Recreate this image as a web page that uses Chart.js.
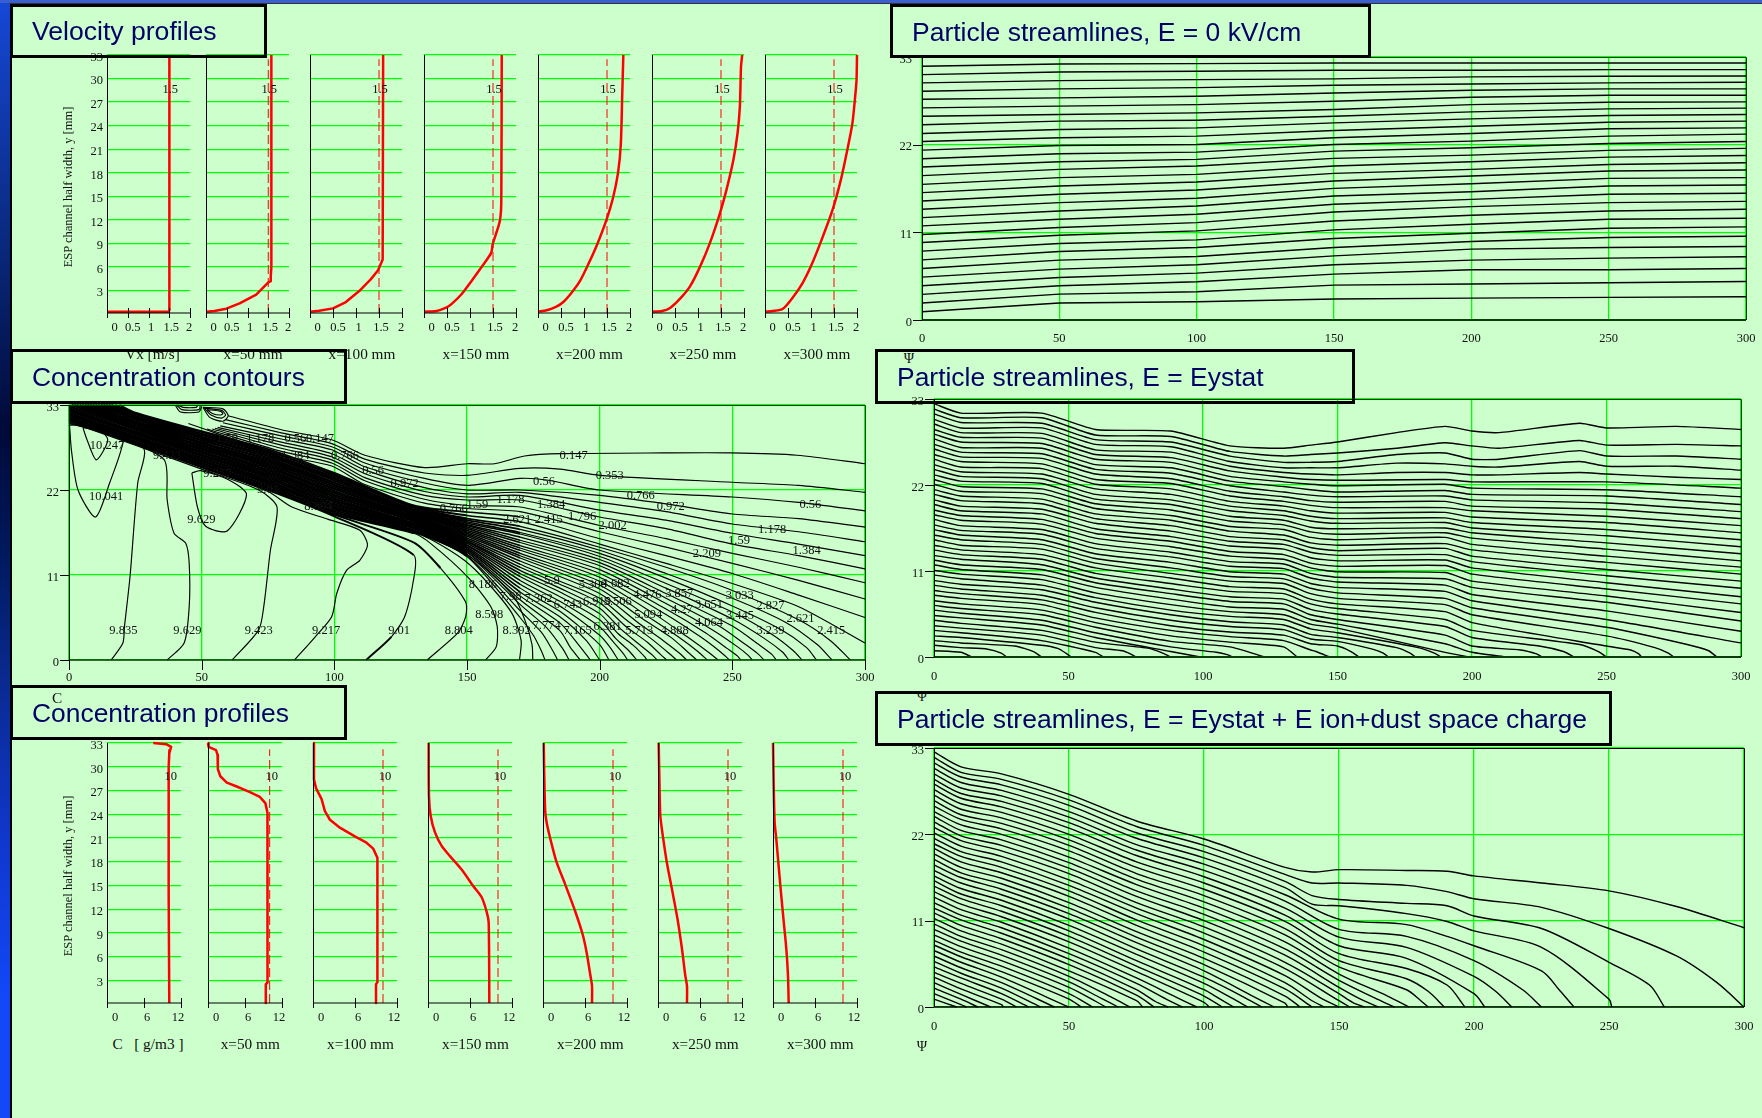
<!DOCTYPE html>
<html>
<head>
<meta charset="utf-8">
<title>ESP profiles and streamlines</title>
<script src="https://cdn.jsdelivr.net/npm/chart.js@4"></script>
<style>
html, body { margin: 0; padding: 0; background: #ccffcc; }
body { position: relative; width: 1762px; height: 1118px; overflow: hidden; font-family: "Liberation Serif", serif; color: #111; }
canvas { position: absolute; }
.cap { position: absolute; white-space: pre; transform: translate(-50%, -50%); font-size: 15.3px; z-index: 3; }
.box { position: absolute; box-sizing: border-box; border: 3px solid #000; z-index: 5; }
.ttl { position: absolute; white-space: pre; font-family: "Liberation Sans", Arial, sans-serif; font-size: 26px; color: #000066; transform-origin: left center; z-index: 6; line-height: 30px; }
#strip { position: absolute; left: 0; top: 0; width: 9.5px; height: 1118px; background: linear-gradient(#1648d8 0, #0a2a80 235px, #000a38 430px, #001a60 560px, #0a2a90 680px, #1038d0 850px, #1248f8 1000px); z-index: 7; }
#stripLine { position: absolute; left: 9.5px; top: 0; width: 2.5px; height: 1118px; background: #000; z-index: 7; }
#topBand { position: absolute; left: 0; top: 0; width: 1762px; height: 3px; background: #3a5fd0; z-index: 8; }
#topLine { position: absolute; left: 9px; top: 3px; width: 1753px; height: 1px; background: #333; z-index: 8; }
</style>
</head>
<body>
<div id="strip"></div><div id="stripLine"></div><div id="topBand"></div><div id="topLine"></div>
<script>
// velocity profiles: [Vx, y]
const velCurves = [
    [[0,.3],[1.48,.3],[1.51,.6],[1.5,2],[1.5,14],[1.51,33]],
    [[0,.3],[.2,.4],[.49,.7],[.81,1.38],[1.21,2.5],[1.49,4],[1.55,4.2],[1.56,4.8],[1.575,6],[1.575,33]],
    [[0,.3],[.2,.45],[.5,.74],[.78,1.55],[1.07,2.95],[1.32,4.43],[1.48,5.6],[1.58,6.97],[1.59,33]],
    [[0,.32],[.27,.4],[.48,.83],[.59,1.25],[.81,2.5],[1.03,4.2],[1.24,5.9],[1.46,7.8],[1.495,8.95],[1.62,11.2],[1.66,12.26],[1.68,14.2],[1.69,33]],
    [[0,.32],[.19,.49],[.4,.95],[.55,1.55],[.73,2.73],[.91,4.2],[1.09,6.33],[1.27,8.66],[1.49,12.05],[1.63,14.8],[1.74,18],[1.8,21.6],[1.83,27.7],[1.855,33]],
    [[0,.32],[.22,.4],[.4,.83],[.61,1.97],[.83,3.58],[1.05,6.12],[1.26,9.08],[1.48,12.9],[1.62,15.86],[1.77,19.67],[1.86,23.05],[1.91,26.44],[1.935,31.5],[1.96,33]],
    [[0,.32],[.17,.4],[.39,.7],[.6,2.1],[.82,4],[1,6.12],[1.22,9.3],[1.47,13.3],[1.65,17.13],[1.79,20.94],[1.9,24.3],[1.96,27.7],[1.99,29.8],[2,33]]
];
const velRef = 1.5;
const velXTicks = [0, .5, 1, 1.5, 2];
const velYTicks = [3, 6, 9, 12, 15, 18, 21, 24, 27, 30, 33];
const velCaptions = ['Vx [m/s]', 'x=50 mm', 'x=100 mm', 'x=150 mm', 'x=200 mm', 'x=250 mm', 'x=300 mm'];

// concentration profiles: [C, y]
const concCurves = [
    [[7.5,33],[9.6,32.85],[10.4,32.5],[10.1,31.7],[10,30],[10,14],[10.1,.14]],
    [[0,33],[.1,32.5],[1.3,32.1],[1.55,31.5],[1.6,29.7],[2,28.8],[3.05,28],[4.66,27.5],[6.8,26.8],[8.4,26.2],[9.3,25.4],[9.64,24.2],[9.7,6.1],[9.6,2.75],[9.37,2.5],[9.37,.14]],
    [[.14,33],[.14,28.4],[.43,27.3],[1.23,25.9],[1.7,24.4],[2.42,23.3],[3.84,22.3],[5.98,21.2],[7.64,20.4],[8.6,19.65],[9.2,18.5],[9.25,6.1],[9.15,2.75],[9,2.5],[9,.14]],
    [[.1,33],[.14,26.3],[.38,23.8],[1,21.7],[1.95,20],[3.14,18.7],[4.8,17],[6.48,14.9],[7.67,13.5],[8.4,11.6],[8.67,10.3],[8.76,.14]],
    [[.1,33],[.2,28],[.33,24.2],[.62,22.5],[1.24,20.2],[1.95,17.9],[3.14,15.2],[4.57,11.8],[5.67,8.8],[6.24,6.5],[6.7,4],[7,2.3],[7,.14]],
    [[.1,33],[.2,28.4],[.33,23.8],[.7,21.2],[1.3,17.7],[2,14.5],[2.8,10.7],[3.43,6.95],[3.9,3.6],[4.14,2.3],[4.14,.14]],
    [[0,33],[.1,27.5],[.24,22.9],[.48,20.8],[.8,17.5],[1.14,14.1],[1.5,10.7],[1.9,7],[2.14,3.6],[2.24,.14]]
];
const concRef = 10;
const concXTicks = [0, 6, 12];
const concCaptions = ['C   [ g/m3 ]', 'x=50 mm', 'x=100 mm', 'x=150 mm', 'x=200 mm', 'x=250 mm', 'x=300 mm'];

// axes of the map panels
const mapXTicks = [0, 50, 100, 150, 200, 250, 300];
const mapYTicks = [0, 11, 22, 33];

// concentration contours, each line is x,y,x,y,...
const contourLines = [
    [60,31.6,80,29.8,99,28.5,111.5,26.5,134,24.9,150,25.4,160.4,25.4,171.7,26.4,185.5,26.7,224,26.8,249.4,26.8,274.4,26.5,300,25.4],
    [59,31.1,80,29.4,99,28,111.5,26,134,24.2,150,23.9,170,24.8,185,24.7,200,23.9,250,23,275,22.6,300,21.7],
    [58,30.7,80,29,99,27.6,111.5,25.5,134,23.5,150,22.6,170,23.5,180,23.3,200,22,250,21.1,275,20.4,300,19.3],
    [57,30.3,80,28.6,99,27.2,111.5,25,134,22.9,150,22,170,22,200,21.3,225,20.2,250,18.9,275,18.3,300,17.2],
    [56,30.1,80,28.2,99,26.7,111.5,24.6,134,22.3,150,21.5,170,21.7,200,20.4,225,19.2,250,17.6,275,16.6,300,15.3],
    [55,30,80,27.8,99,26.3,111.5,24.1,134,21.8,150,21.1,170,21.3,200,19.4,225,18.1,250,16.4,275,15,300,13.5],
    [54,29.9,80,27.4,99,25.9,111.5,23.6,134,21.3,150,20.7,170,20.7,200,18.5,225,17,250,15,275,13.5,300,11.8],
    [52,29.9,80,27,99,25.5,111.5,23.2,134,20.8,150,20,170,19.8,200,17.4,225,15.7,250,13.8,275,12,300,10],
    [45,30.6,80,26.5,99,25.1,111.5,22.7,134,20.3,150,19.6,170,19.2,200,16.6,225,14.6,250,12.5,275,10.3,300,7.9],
    [19,33,25,32,50,29.6,75,27.3,100,24.2,130,20,150,19.15,170,18.5,200,15.7,225,13.5,250,11.2,275,8.4,300,5.5],
    [17.5,33,25,31.9,50,29.5,75,27.1,100,24,130,19.9,150,18.7,170,17.9,200,15,225,12.5,250,9.9,275,6.9,300,2.2],
    [16,33,25,31.8,50,29.3,75,27,100,23.9,130,19.8,150,18.3,170,17.3,200,14.6,225,12,250,9,275,5.2,287,2.5,294.5,0],
    [15,33,25,31.6,50,29.2,75,26.8,100,23.7,130,19.7,150,18.1,170,16.9,200,14.2,225,11.2,250,8,270,4.9,282,2,287.6,0],
    [14,33,25,31.5,50,29.1,75,26.7,100,23.5,130,19.5,150,17.9,170,16.5,200,13.8,225,10.6,250,7,268,4,278,1.6,281.7,0],
    [13,33,25,31.4,50,28.9,75,26.5,100,23.4,130,19.4,150,17.7,170,16.3,200,13.4,225,9.9,250,6.2,265,3.3,273,1.2,276.3,0],
    [12,33,25,31.3,50,28.8,75,26.4,100,23.2,130,19.3,150,17.5,170,15.9,200,13,225,9.3,250,5.3,262,2.8,269,1,271.3,0],
    [11,33,25,31.2,50,28.7,75,26.2,100,23,130,19.2,150,17.4,170,15.5,200,12.6,225,8.6,250,4.4,260,2,265,.7,266.5,0],
    [10,33,25,31.1,50,28.5,75,26,100,22.9,130,19.1,150,17.2,170,15.2,200,12.2,225,8,245,4.4,255,2,260,.7,261.9,0],
    [9,33,25,30.9,50,28.4,75,25.9,100,22.7,130,19,150,17,170,14.8,200,11.7,225,7.3,243,3.8,252,1.7,256,.6,257.5,0],
    [8,33,25,30.8,50,28.2,75,25.7,100,22.6,130,18.9,150,16.8,170,14.5,200,11.2,225,6.6,240,3.5,248,1.5,252,.5,253.1,0],
    [7,33,25,30.7,50,28.1,75,25.6,100,22.4,130,18.8,150,16.6,170,14.2,200,10.7,225,5.9,238,3,245,1.2,249,0],
    [6,33,25,30.6,50,28,75,25.4,100,22.2,130,18.6,150,16.4,170,13.8,200,10.2,220,6.1,233,3,241,1,244.6,0],
    [5,33,25,30.5,50,27.8,75,25.3,100,22.1,130,18.5,150,16.2,170,13.5,200,9.7,220,5.2,230,2.9,237,1.1,240.6,0],
    [4,33,25,30.3,50,27.7,75,25.1,100,21.9,130,18.4,150,16,170,13.2,200,9.2,215,5.6,227,2.9,233,1.1,236.6,0],
    [3,33,25,30.2,50,27.6,75,25,100,21.7,130,18.3,150,15.8,170,12.8,200,8.6,215,4.7,224,2.5,230,.9,232.8,0],
    [2,33,25,30.1,50,27.4,75,24.8,100,21.6,130,18.2,150,15.6,170,12.4,185,10.2,200,8,210,5.2,220,2.6,226,.9,229,0],
    [1,33,25,30,50,27.3,75,24.6,100,21.4,130,18.1,150,15.4,170,12,185,9.8,200,7.4,210,4.3,218,2.3,223,.7,225.3,0],
    [0,32.9,25,29.9,50,27.2,75,24.5,100,21.2,130,18,150,15.3,170,11.6,185,9.3,200,6.7,208,4,215,2,220,.6,221.6,0],
    [0,32.8,25,29.8,50,27,75,24.3,100,21.1,130,17.9,150,15.1,170,11.2,185,8.8,200,6,207,3.4,213,1.8,217,.4,217.8,0],
    [0,32.6,25,29.6,50,26.9,75,24.2,100,20.9,130,17.7,150,14.9,170,10.8,185,8.2,200,5.2,206,2.8,211,1.2,214,0],
    [0,32.5,25,29.5,50,26.8,75,24,100,20.7,130,17.6,150,14.8,170,10.3,185,7.6,200,4.3,205,2.4,209,.8,210.5,0],
    [0,32.4,25,29.4,50,26.6,75,23.9,100,20.6,130,17.5,150,14.6,170,9.8,185,7,200,3.2,204,1.6,207,0],
    [0,32.3,25,29.3,50,26.5,75,23.7,100,20.4,130,17.4,150,14.4,170,9.3,185,6.3,200,2,203.5,0],
    [0,32.2,25,29.2,50,26.4,75,23.6,100,20.2,130,17.3,150,14.2,170,8.8,185,5.6,195,2.5,200,0],
    [0,32,25,29,50,26.2,75,23.4,100,20.1,130,17.2,150,14,170,8.3,185,4.8,192,2,196.5,0],
    [0,31.9,25,28.9,50,26.1,75,23.2,100,19.9,130,17.1,150,13.9,170,7.8,185,3.8,189,1.6,192.7,0],
    [0,31.8,25,28.8,50,25.9,75,23.1,100,19.7,130,17,150,13.7,170,7.2,180,4.2,186,1.5,188.5,0],
    [0,31.7,25,28.7,50,25.8,75,22.9,100,19.6,130,16.8,150,13.5,170,6.4,178,3.6,182,1.4,184.2,0],
    [0,31.6,25,28.6,50,25.7,75,22.8,100,19.4,130,16.7,150,13.4,170,5.5,175,3.2,178,1.2,179.4,0],
    [0,31.4,25,28.5,50,25.5,75,22.6,100,19.2,130,16.6,148,14,158,11.5,168,8,172,5,174.5,2,174.8,0],
    [0,31.3,25,28.3,50,25.4,75,22.5,100,19.1,130,16.5,137,15.5,149,12.9,158,9.9,167,6,170.4,2.5,169.8,0],
    [0,31.2,25,28.2,50,25.3,75,22.3,100,18.9,130,16.4,136.6,15,150.4,10.7,159,6.9,161.4,4.3,161,1.7,157,0],
    [0,31.1,25,28.1,50,25.1,75,22.2,100,18.8,130,15.2,140,11.9,149.5,7.5,149.5,5.6,146.5,3.5,135,0],
    [0,31,25,28,50,25,75,22,100,18.6,129.9,13.6,129.6,9.9,126.5,5.6,121.5,3,112,0],
    [0,30.9,25,27.9,50,24.9,75,21.8,84,19.8,97.7,18.2,109.6,16.8,112.5,14.9,109.6,12.9,104.6,11.6,100.9,8.6,99,5.6,92.8,3,85,0],
    [0,30.8,25,27.8,50,24.7,71.5,22,78.4,19.8,75.9,14.2,73.4,6.9,71.5,3.9,61.5,0],
    [0,30.7,20,28.6,35.9,25.9,37,20.7,39.6,16.4,44,15.1,45.3,12.5,45.3,6.9,43.4,2.2,37,0],
    [0,30.6,20,28.8,28.4,27.2,25.9,22.9,23,10.8,20.9,4.3,20.3,2.2,15.9,0],
    [0,30.4,.2,30.3,.9,27.2,3.4,22,10,18.5,15.3,22.9,20.6,28.7,16.5,29.8,11.5,30.4,0,30.4],
    [5.3,30,10.3,30.1,14.6,28.5,10.3,25.9,6.8,28.5,5.3,30],
    [46.3,24.2,49.6,24.5,60.3,23.3,66.9,21.4,59.6,16.7,51.5,17.3,48.4,19.8,46.3,24.2],
    [40,33,42,32.1,49,32.1,50,32.8],
    [40.5,33,42.5,32.4,49,32.4,49.5,33],
    [41,33,43,32.7,48,32.7,48.5,33],
    [50.5,32.7,53,31.4,58,30.9,60,31.6,58,32.5,50.5,32.7],
    [51,32.6,53.5,31.7,57.5,31.3,59,31.7,57.5,32.3,51,32.6],
    [52,32.4,54,31.9,57,31.7,58,31.9,57,32.2,52,32.4]
];
const contourLabels = ['10.247','10.041','9.629','9.835','9.629','9.423','9.217','9.01','8.804','8.598','8.392','7.774','7.165','6.381','5.713','4.888','4.064','3.445','3.239','2.621','2.415','2.827','3.033','3.651','3.857','4.27','5.094','4.476','6.743','7.362','7.98','8.186','6.919','5.506','4.682','5.300','5.9','2.209','1.59','1.178','1.384','0.56','0.972','0.766','0.56','0.353','0.147','1.178','1.384','1.796','2.002','2.415','2.621','1.59','0.766','1.59','1.178','0.56','0.147','1.384','0.766','0.56','0.972','9.423','9.217','9.01','8.804'];
const contourLabelX = [14.3,14,49.9,20.5,44.6,71.5,96.9,124.4,146.9,158.4,168.7,180,191.7,203,214.9,228.3,241.2,252.9,264.4,275.7,287.3,264.4,252.8,241.2,230,231,218.3,218,188,177,166.4,156,199,206.8,206,197.4,182,240.4,252.5,265,278,279.4,226.8,215.5,179,203.8,190.2,166.4,181.7,193.4,204.9,180.8,168.9,153.9,145,59.6,72.1,85.3,94.6,85.3,104,114.6,126.5,37,55.9,75,94];
const contourLabelY = [27.7,21.1,18.2,3.75,3.75,3.75,3.75,3.75,3.75,5.8,3.75,4.5,3.75,4.3,3.75,3.75,4.8,5.7,3.75,5.3,3.75,7,8.3,7.1,8.6,6.5,5.9,8.4,7.1,7.9,8.2,9.7,7.5,7.5,9.9,9.8,10.3,13.7,15.5,16.8,14.1,20.1,19.9,21.2,23.1,23.9,26.5,20.8,20.1,18.6,17.4,18.1,18.2,20.1,19.6,28.7,28.6,28.6,28.6,26.5,26.4,24.5,22.8,26.4,24.1,22,19.8];

// streamlines E = 0, one row per line, values at streamX0
const streamX0 = [0, 50, 100, 150, 200, 250, 300];
const streamRows0 = [
    [1.04,2.13,2.29,2.63,2.75,2.84,2.92],
    [2.13,3.25,3.55,4.38,4.51,4.67,4.84],
    [3.21,4.3,4.8,5.76,6.3,6.3,6.47],
    [4.3,5.34,5.88,6.93,7.51,7.76,7.93],
    [5.38,6.38,6.93,8.05,8.89,9.09,9.22],
    [6.47,7.51,7.97,9.09,9.85,10.35,10.51],
    [7.55,8.59,9.09,10.22,10.89,11.51,11.68],
    [8.64,9.6,10.05,11.31,12.02,12.64,12.77],
    [9.72,10.64,11.18,12.43,13.14,13.68,13.89],
    [10.72,11.6,12.22,13.56,14.23,14.73,14.89],
    [11.81,12.64,13.27,14.52,15.14,15.77,15.9],
    [12.85,13.68,14.31,15.56,16.1,16.81,16.94],
    [13.89,14.73,15.27,16.52,17.1,17.77,17.86],
    [14.94,15.77,16.31,17.44,18.06,18.69,18.82],
    [15.98,16.81,17.31,18.4,18.9,19.52,19.73],
    [17.02,17.86,18.27,19.32,19.86,20.44,20.65],
    [18.11,18.9,19.32,20.28,20.69,21.28,21.53],
    [19.19,19.86,20.15,21.19,21.61,22.15,22.4],
    [20.23,20.86,21.07,22.03,22.45,23.07,23.32],
    [21.32,21.9,22.03,22.86,23.4,23.99,24.11],
    [22.4,22.86,23.07,23.78,24.32,24.82,24.95],
    [23.4,23.9,24.11,24.74,25.24,25.66,25.78],
    [24.49,24.95,25.07,25.57,26.12,26.49,26.58],
    [25.57,25.78,25.99,26.41,27.03,27.33,27.37],
    [26.62,26.83,27.03,27.45,27.95,28.2,28.2],
    [27.7,27.87,28.08,28.49,28.83,29,29],
    [28.7,29,29.16,29.45,29.62,29.75,29.83],
    [29.75,30.04,30.16,30.25,30.5,30.58,30.62],
    [30.79,31.12,31.21,31.33,31.33,31.41,31.41],
    [31.83,32.12,32.17,32.25,32.25,32.25,32.25]
];

// streamlines E = Eystat, per x: heights of the lines still alive, top line first
const eyX = [0, 10, 40, 60, 88, 110, 130, 140, 150, 172, 190, 200, 210, 240, 250, 276, 300];
const eyColumns = [
    [32.4,31.7,31.1,30.4,29.8,29.1,28.5,27.9,27.2,26.6,25.9,25.3,24.6,24,23.3,22.7,22.1,21.4,20.8,20.1,19.5,18.8,18.2,17.6,16.9,16.3,15.6,15,14.3,13.7,13,12.4,11.8,11.1,10.5,9.8,9.2,8.5,7.9,7.2,6.6,6,5.3,4.7,4,3.4,2.7,2.1,1.5,.8],
    [31.2,30.6,30,29.3,28.7,28.1,27.5,26.8,26.2,25.6,25,24.3,23.7,23.1,22.5,21.8,21.2,20.6,20,19.3,18.7,18.1,17.5,16.8,16.2,15.6,15,14.3,13.7,13.1,12.5,11.8,11.2,10.6,10,9.3,8.7,8.1,7.5,6.8,6.2,5.6,5,4.3,3.7,3.1,2.5,1.8,1.2,.6],
    [31.2,30.6,29.9,29.3,28.6,28,27.3,26.7,26,25.4,24.7,24.1,23.4,22.8,22.2,21.5,20.9,20.2,19.6,18.9,18.3,17.6,17,16.3,15.7,15,14.4,13.8,13.1,12.5,11.8,11.2,10.5,9.9,9.2,8.6,7.9,7.3,6.7,6,5.4,4.7,4.1,3.4,2.8,2.1,1.5],
    [29.1,28.4,27.8,27.2,26.5,25.9,25.3,24.6,24,23.4,22.7,22.1,21.5,20.8,20.2,19.6,19,18.3,17.7,17.1,16.4,15.8,15.2,14.5,13.9,13.2,12.6,12,11.4,10.7,10.1,9.5,8.9,8.2,7.6,7,6.3,5.7,5,4.4,3.8,3.1,2.5,1.9,1.2,.6],
    [28.9,28.2,27.5,26.9,26.2,25.5,24.9,24.2,23.5,22.8,22.2,21.5,20.8,20.1,19.5,18.8,18.1,17.5,16.8,16.1,15.4,14.8,14.1,13.4,12.8,12.1,11.4,10.7,10.1,9.4,8.7,8.1,7.4,6.7,6,5.4,4.7,4,3.4,2.7,2,1.3,.7],
    [27,26.3,25.7,25,24.4,23.8,23.1,22.5,21.9,21.2,20.6,19.9,19.3,18.7,18,17.4,16.7,16.1,15.4,14.8,14.2,13.5,12.9,12.2,11.6,10.9,10.3,9.7,9,8.4,7.7,7.1,6.4,5.8,5.2,4.5,3.9,3.2,2.6,1.9,1.3],
    [26.7,25.7,24.9,24.2,23.6,23,22.4,21.8,21.1,20.5,19.9,19.3,18.7,18.1,17.5,16.9,16.3,15.6,15,14.4,13.8,13.1,12.5,11.9,11.3,10.6,10,9.4,8.7,8.1,7.4,6.8,6.1,5.4,4.8,4.1,3.5,2.8,2.1,1.3],
    [27.1,25.9,24.9,24.2,23.4,22.7,22.1,21.4,20.7,20,19.4,18.7,18,17.4,16.6,16,15.3,14.6,14,13.4,12.7,12,11.4,10.7,10.1,9.4,8.8,8.1,7.4,6.8,6.1,5.4,4.8,4.2,3.6,2.9,2.3,1.7,.9],
    [27.5,26.1,25,24.2,23.3,22.6,21.9,21.1,20.5,19.8,19.1,18.4,17.7,17.1,16.4,15.7,15,14.3,13.6,13,12.3,11.6,10.9,10.2,9.6,8.9,8.2,7.5,6.8,6.2,5.5,4.8,4.2,3.7,3.1,2.5,2,1.4],
    [28.7,26.7,25.9,24.8,23.6],
    [29.5,27.4,26.1,24.7,23.6,22.7,22.1,21.3,20.6,19.9,19.1,18.5,17.8,17.2,16.5,15.9,15.3,14.5,13.9,13.1,12.4,11.7,10.8,10,9.2,8.4,7.5,6.7,5.8,4.8,3.9,2.8,1.7,.6],
    [28.9,27,25.3,24.4,23.3,22.4,21.6,20.8,20.1,19.3,18.7,17.9,17.2,16.5,15.9,15.2,14.4,13.7,12.9,12.2,11.4,10.6,9.7,8.9,8,7.2,6.3,5.4,4.4,3.4,2.5,1.4,.6],
    [28.7,26.7,25.3,24.3,23.3],
    [29.9,27.7,26.4,25,23.6],
    [29.3,27.1,25.7,24.4,23.4,22.4,21.4,20.6,19.7,18.9,18,17.2,16.3,15.5,14.6,13.8,12.9,12.1,11.2,10.4,9.5,8.7,7.8,7,5.9,4.8,3.8,2.7,1.4],
    [29.5,27.2,25.7,24.4,23],
    [29.1,27,25.3,23.9,22.7,21.6,20.5,19.5,18.6,17.7,16.8,15.9,15,14.1,13.2,12.3,11.5,10.6,9.7,8.8,7.7,6.8,5.7,4.6,3.3,1.8]
];
// where the lower lines come down to the plate, x,y,x,y from line 27 on
const eyEnds = [[280,1.6,288,.8,291,0],[268,1.2,273,.5,275,0],[259,.9,262,.4,263,0],[240,1.6,247,.7,250,0],[225,1.4,234,.7,238,0],[218,.9,224,.4,226,0],[213,0],[199,0],[180,1.2,186,.5,188.5,0],[172,1.2,177,.5,179,0],[163,1,167,.5,169,0],[155,.7,158,0],[142,.7,147,0],[135,0],[123,0],[105,.6,109,.3,111,0],[99,0],[80,1.1,85,.5,88,0],[70,.8,73,.4,75,0],[63,0],[46,1.1,49,.5,51,0],[30,1.4,37,.7,40,0],[20,1,25,.5,27,0],[14,0]];
const eyFirstEnd = 26;

// streamlines E = Eystat + space charge
const spX = [0, 10, 25, 50, 75, 100, 130, 140, 150, 175, 190, 200, 225, 250, 275, 300];
const spColumns = [
    [32.5,31.8,31.1,30.4,29.7,29,28.4,27.7,27,26.3,25.6,24.9,24.3,23.6,22.9,22.2,21.5,20.8,20.2,19.5,18.8,18.1,17.4,16.7,16.1,15.4,14.7,14,13.3,12.6,12,11.3,10.6,9.9,9.2,8.5,7.9,7.2,6.5,5.8,5.1,4.4,3.8,3.1,2.4,1.7,1],
    [30.6,29.9,29.3,28.6,27.9,27.2,26.6,25.9,25.2,24.5,23.9,23.2,22.5,21.8,21.2,20.5,19.8,19.2,18.5,17.8,17.1,16.5,15.8,15.1,14.4,13.8,13.1,12.4,11.7,11.1,10.4,9.7,9,8.4,7.7,7,6.4,5.7,5,4.3,3.7,3,2.3,1.6,1,.3],
    [29.7,29,28.3,27.6,26.9,26.2,25.5,24.8,24.1,23.4,22.7,22,21.3,20.6,19.9,19.2,18.5,17.8,17.1,16.4,15.7,15,14.3,13.6,12.9,12.2,11.5,10.8,10.1,9.4,8.7,8,7.3,6.6,5.9,5.2,4.5,3.8,3.1,2.4,1.7,1,.3],
    [27.1,26.4,25.7,24.9,24.2,23.5,22.8,22,21.3,20.6,19.9,19.1,18.4,17.7,17,16.2,15.5,14.8,14.1,13.3,12.6,11.9,11.2,10.4,9.7,9,8.3,7.5,6.8,6.1,5.4,4.6,3.9,3.2,2.5,1.7,1],
    [23.7,23,22.2,21.5,20.7,20,19.3,18.5,17.8,17,16.3,15.6,14.8,14.1,13.3,12.6,11.9,11.1,10.4,9.6,8.9,8.2,7.4,6.7,5.9,5.2,4.5,3.7,3,2.2,1.5,.8],
    [21.4,20.6,19.8,19,18.2,17.4,16.6,15.8,15,14.2,13.4,12.6,11.8,11,10.2,9.4,8.6,7.8,7,6.2,5.4,4.6,3.8,3,2.2,1.4,.6],
    [17.8,16.9,16,15.2,14.3,13.5,12.6,11.7,10.9,10,9.2,8.3,7.4,6.6,5.7,4.9,4,3.1,2.3,1.4,.5],
    [17.2,15.8,14.2,13.1],
    [17.5,15.8,13.7,12.9,11.2,9.9,8.9,7.8,6.8,5.9,5.1,4.2,3.4,2.5,1.7,.8],
    [17.4,15.5,13.2,11.9,10.5,9,7.6,6.2,4.9,3.6,2.2],
    [17.3,14.7,12.9,10.9,9],
    [16.7,13.8,11.6,9.7,7.8,5.9,3.9,1.7],
    [15.8,12.7,10,7.6,4.6],
    [14.8,10,5.7,1],
    [12.8,6.5],
    [10.1]
];
const spEnds = [[290,3.1,300,0],[265,2.8,270.5,0],[251,0],[232,2,237,0],[218,2.2,225,0],[208,2,214,0],[204,0],[190,2.8,196.6,0],[183,2,189,0],[180,.9,183,0],[168,1.4,176,0],[163,1.2,170.5,0],[158,1,164.6,0],[155,.6,159.4,0],[154,0],[143,1.2,150,0],[140,.8,144.6,0],[140,0],[135.6,0],[131,0],[118,1.4,126,0],[114,1.4,121.5,0],[110,1.2,116.2,0],[106,1,111,0],[106.7,0],[102,0],[90,1.2,97.3,0],[86,1,92,0],[82,.7,86.7,0],[81.5,0],[77.3,0],[66,1.2,72.6,0],[62,1.1,68.2,0],[60,.7,63.6,0],[58.7,0],[54.5,0],[49.9,0],[44.6,0],[39.4,0],[35,0],[30.5,0],[25.7,0],[21,0],[16.2,0],[12,0],[8.4,0]];
const spFirstEnd = 1;

const GREEN = '#00ff00';
const RED = '#ff0000';
const TICK_FONT = '12.5px "Liberation Serif"';

function toPoints(flat) {
    const pts = [];
    for (let i = 0; i < flat.length; i += 2) pts.push({ x: flat[i], y: flat[i + 1] });
    return pts;
}

function pairsToPoints(pairs) {
    return pairs.map(function (p) { return { x: p[0], y: p[1] }; });
}

function rowsToLines(xs, rows) {
    return rows.map(function (r) {
        return r.map(function (y, i) { return { x: xs[i], y: y }; });
    });
}

function columnsToLines(xs, cols, ends, firstEnd) {
    const lines = [];
    for (let j = 0; j < cols[0].length; j++) {
        let pts = [];
        xs.forEach(function (x, i) {
            if (j < cols[i].length) pts.push({ x: x, y: cols[i][j] });
        });
        if (j >= firstEnd) pts = pts.concat(toPoints(ends[j - firstEnd]));
        pts.sort(function (a, b) { return a.x - b.x; });
        lines.push(pts);
    }
    return lines;
}

// axis lines, crossing ticks and tick labels; library ticks can't be shifted one by one
const panelAxes = {
    id: 'panelAxes',
    afterDatasetsDraw: function (chart, args, o) {
        const ctx = chart.ctx, a = chart.chartArea;
        const sx = chart.scales.x, sy = chart.scales.y;
        const left = Math.round(a.left) + .5;
        ctx.save();
        ctx.lineWidth = 1;
        ctx.strokeStyle = o.color;
        if (o.frame) {
            ctx.beginPath();
            ctx.moveTo(a.left, Math.round(a.top) + .5); ctx.lineTo(Math.round(a.right) + .5, Math.round(a.top) + .5); ctx.lineTo(Math.round(a.right) + .5, a.bottom);
            ctx.stroke();
        }
        ctx.lineWidth = o.axisWidth;
        ctx.beginPath();
        ctx.moveTo(a.left, a.bottom); ctx.lineTo(a.right, a.bottom);
        ctx.stroke();
        ctx.lineWidth = 1;
        ctx.strokeStyle = '#000';
        ctx.beginPath();
        ctx.moveTo(left, a.top); ctx.lineTo(left, a.bottom);
        sx.ticks.forEach(function (t) {
            const px = Math.round(sx.getPixelForValue(t.value)) + .5;
            ctx.moveTo(px, a.bottom - o.tickUp); ctx.lineTo(px, a.bottom + o.tickDown);
        });
        if (o.yTickLen) {
            sy.ticks.forEach(function (t) {
                const py = Math.round(sy.getPixelForValue(t.value)) + .5;
                ctx.moveTo(a.left - o.yTickLen, py); ctx.lineTo(a.left, py);
            });
        }
        ctx.stroke();

        ctx.fillStyle = '#111';
        ctx.font = TICK_FONT;
        ctx.textBaseline = 'middle';
        ctx.textAlign = 'center';
        sx.ticks.forEach(function (t, i) {
            const shift = o.xShift ? o.xShift[i] : 0;
            ctx.fillText(String(t.value), sx.getPixelForValue(t.value) + shift, a.bottom + o.xLabelGap);
        });
        ctx.textAlign = 'right';
        if (o.yLabels) {
            sy.ticks.forEach(function (t) {
                ctx.fillText(String(t.value), a.left - o.yLabelGap, sy.getPixelForValue(t.value) + 2.5);
            });
        }
        ctx.textAlign = 'center';
        (o.notes || []).forEach(function (n) {
            ctx.fillText(n.text, sx.getPixelForValue(n.x) + (n.dx || 0), sy.getPixelForValue(n.y));
        });
        ctx.restore();
    }
};

function fixTicks(values) {
    return function (scale) {
        scale.ticks = values.map(function (v) { return { value: v }; });
    };
}

function panel(o) {
    const pad = { left: 60, right: 14, top: 8, bottom: 30 };
    const w = o.r - o.l, h = o.b - o.t;
    const c = document.createElement('canvas');
    c.width = w + pad.left + pad.right;
    c.height = h + pad.top + pad.bottom;
    c.style.left = (o.l - pad.left) + 'px';
    c.style.top = (o.t - pad.top) + 'px';
    c.style.zIndex = 2;
    document.body.appendChild(c);
    new Chart(c.getContext('2d'), {
        type: 'scatter',
        data: { datasets: o.sets },
        options: {
            responsive: false,
            animation: false,
            events: [],
            layout: { padding: pad },
            plugins: { legend: { display: false }, tooltip: { enabled: false }, panelAxes: o.axes },
            scales: {
                x: {
                    type: 'linear', min: o.xMin, max: o.xMax,
                    afterBuildTicks: fixTicks(o.xTicks),
                    ticks: { display: false },
                    grid: { display: !!o.xGrid, color: GREEN, lineWidth: 1.3, drawTicks: false },
                    border: { display: false }
                },
                y: {
                    type: 'linear', min: o.yMin, max: o.yMax,
                    afterBuildTicks: fixTicks(o.yTicks),
                    ticks: { display: false },
                    grid: { color: GREEN, lineWidth: 1.3, drawTicks: false },
                    border: { display: false }
                }
            }
        },
        plugins: [panelAxes]
    });
}

function curveSet(points, color, width, dash, tension) {
    return {
        data: points, showLine: true, borderColor: color, borderWidth: width,
        borderDash: dash || [], pointRadius: 0, tension: tension || 0, clip: false, fill: false, borderJoinStyle: 'round'
    };
}

// the band of tightly packed contours prints solid black
function bandWidth(c) {
    const a = c.p0.parsed, b = c.p1.parsed;
    if (a.x < 125) return 1.9;
    if (a.x < 131 && b.x - a.x > 8) return 2;
    if (a.x >= 147 && a.x <= 150 && b.x - a.x > 8 && a.y > 14) return 1.6;
    return 1.15;
}

function caption(text, x, y, size) {
    const d = document.createElement('div');
    d.className = 'cap';
    d.textContent = text;
    d.style.left = x + 'px';
    d.style.top = y + 'px';
    if (size) d.style.fontSize = size + 'px';
    document.body.appendChild(d);
    return d;
}

function titleBox(text, l, t, r, b, tx, cy, tw) {
    const box = document.createElement('div');
    box.className = 'box';
    box.style.left = l + 'px';
    box.style.top = t + 'px';
    box.style.width = (r - l) + 'px';
    box.style.height = (b - t) + 'px';
    document.body.appendChild(box);
    const s = document.createElement('div');
    s.className = 'ttl';
    s.textContent = text;
    s.style.left = tx + 'px';
    s.style.top = (cy - 15) + 'px';
    document.body.appendChild(s);
    s.style.transform = 'scaleX(' + (tw / s.offsetWidth) + ')';
}

// velocity row
const velLeft = [106.7, 206.3, 310.3, 424.3, 538, 651.7, 765.3];
const velRight = [190, 289.3, 403, 516.7, 630.3, 744, 858];
const velCapX = [152.5, 253, 362, 476, 589.5, 703, 817];
velCurves.forEach(function (curve, i) {
    panel({
        l: velLeft[i], r: velRight[i], t: 55, b: 313.7,
        xMin: 0, xMax: 2, yMin: .15, yMax: 33, xTicks: velXTicks, yTicks: velYTicks,
        sets: [
            curveSet([{ x: velRef, y: .15 }, { x: velRef, y: 32.45 }], RED, 1, [9, 4]),
            curveSet(pairsToPoints(curve), RED, 2.5, null, i >= 3 ? .25 : 0)
        ],
        axes: {
            color: '#000', axisWidth: 1.2, tickUp: 5, tickDown: 5, xLabelGap: 14.5,
            xShift: [7.5, 5, 2.5, 2, -1], yLabels: i === 0, yLabelGap: 4,
            notes: [{ text: String(velRef), x: velRef, y: 28.56, dx: 1 }]
        }
    });
    caption(velCaptions[i], velCapX[i], 354);
});
caption('ESP channel half width, y [mm]', 67.7, 186.7, 12.5).style.transform = 'translate(-50%,-50%) rotate(-90deg)';

// concentration row
const concLeft = [107.3, 207.7, 313, 428, 543, 657.7, 772.7];
const concRight = [181.7, 282.3, 397.3, 512, 627, 741.7, 856.7];
const concCapX = [148, 250.3, 360.5, 475.5, 590.3, 705.3, 820.3];
concCurves.forEach(function (curve, i) {
    panel({
        l: concLeft[i], r: concRight[i], t: 743.3, b: 1004,
        xMin: 0, xMax: 12, yMin: .14, yMax: 33, xTicks: concXTicks, yTicks: velYTicks,
        sets: [
            curveSet([{ x: concRef, y: .14 }, { x: concRef, y: 32.2 }], RED, 1, [9, 4]),
            curveSet(pairsToPoints(curve), RED, 2.5, null, i >= 3 ? .25 : 0)
        ],
        axes: {
            color: '#000', axisWidth: 1.2, tickUp: 5, tickDown: 5, xLabelGap: 15,
            xShift: [8, 3, -3], yLabels: i === 0, yLabelGap: 4,
            notes: [{ text: String(concRef), x: concRef, y: 28.7, dx: 2 }]
        }
    });
    caption(concCaptions[i], concCapX[i], 1044);
});
caption('ESP channel half width, y [mm]', 67.7, 875.8, 12.5).style.transform = 'translate(-50%,-50%) rotate(-90deg)';

// contour map
panel({
    l: 69.3, r: 865.7, t: 405, b: 660, xMin: 0, xMax: 300, yMin: 0, yMax: 33,
    xTicks: mapXTicks, yTicks: mapYTicks, xGrid: true,
    sets: contourLines.map(function (l, i) {
        const s = curveSet(toPoints(l), '#000', 1.15, null, .25);
        if (i >= 9 && i <= 43) s.segment = { borderWidth: bandWidth };
        return s;
    }),
    axes: {
        color: '#0b3d0b', frame: true, axisWidth: 1.6, tickUp: 0, tickDown: 10, xLabelGap: 18,
        yLabels: true, yLabelGap: 10, yTickLen: 9,
        notes: contourLabels.map(function (t, i) { return { text: t, x: contourLabelX[i], y: contourLabelY[i] }; })
    }
});
caption('C', 57, 697.7);

// streamlines
panel({
    l: 922, r: 1746, t: 57, b: 320.7, xMin: 0, xMax: 300, yMin: 0, yMax: 33,
    xTicks: mapXTicks, yTicks: mapYTicks, xGrid: true,
    sets: rowsToLines(streamX0, streamRows0).map(function (l) { return curveSet(l, '#000', 1.4); }),
    axes: { color: '#0b3d0b', frame: true, axisWidth: 2, tickUp: 0, tickDown: 0, xLabelGap: 19, yLabels: true, yLabelGap: 10, yTickLen: 9 }
});
caption('\u03a8', 909, 359, 14);

panel({
    l: 934.3, r: 1742, t: 399.3, b: 658, xMin: 0, xMax: 300, yMin: 0, yMax: 33,
    xTicks: mapXTicks, yTicks: mapYTicks, xGrid: true,
    sets: columnsToLines(eyX, eyColumns, eyEnds, eyFirstEnd).map(function (l) { return curveSet(l, '#000', 1.4, null, .2); }),
    axes: { color: '#0b3d0b', frame: true, axisWidth: 2, tickUp: 0, tickDown: 0, xLabelGap: 19.5, yLabels: true, yLabelGap: 10, yTickLen: 9 }
});
caption('\u03a8', 922, 697, 14);

panel({
    l: 934.3, r: 1745, t: 748.3, b: 1008, xMin: 0, xMax: 300, yMin: 0, yMax: 33,
    xTicks: mapXTicks, yTicks: mapYTicks, xGrid: true,
    sets: columnsToLines(spX, spColumns, spEnds, spFirstEnd).map(function (l) { return curveSet(l, '#000', 1.4, null, .3); }),
    axes: { color: '#000', frame: true, axisWidth: 1.6, tickUp: 0, tickDown: 0, xLabelGap: 19.5, yLabels: true, yLabelGap: 10, yTickLen: 9 }
});
caption('\u03a8', 922, 1047, 14);

// heading boxes sit over the charts, no fill
titleBox('Velocity profiles', 10, 4, 267, 58, 32, 31, 185);
titleBox('Concentration contours', 10, 349, 347.3, 403.5, 32, 376.7, 273);
titleBox('Concentration profiles', 10, 685.3, 347.3, 740.5, 32, 713, 257);
titleBox('Particle streamlines, E = 0 kV/cm', 890, 4, 1371, 58, 912, 32, 389);
titleBox('Particle streamlines, E = Eystat', 874.5, 349, 1355, 404, 896.7, 376.7, 367);
titleBox('Particle streamlines, E = Eystat + E ion+dust space charge', 874.5, 691, 1611.7, 746, 896.7, 719.3, 690);
</script>
</body>
</html>
